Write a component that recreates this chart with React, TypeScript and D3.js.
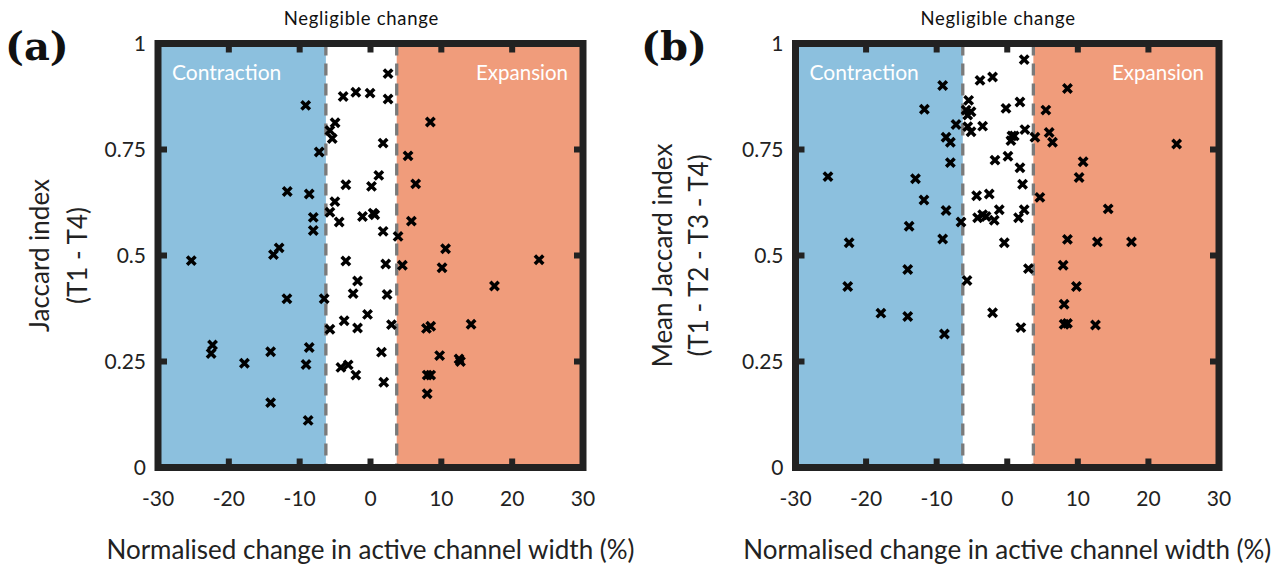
import React from "react";
import * as d3 from "d3";

// Panel (a): Jaccard index (T1 - T4)
const changeA = [-25.3, -22.3, -22.5, -17.8, -14.1, -14.1, -13.7, -12.9, -11.8, -11.75, -9.15, -9.1, -8.8, -8.65, -8.65, -8.08, -8.08, -7.24, -6.54, -5.73, -5.4, -5.0, -5.03, -5.73, -5.73, -4.42, -4.18, -3.86, -3.72, -3.48, -3.48, -3.15, -2.45, -2.07, -2.07, -1.83, -1.83, -1.13, -0.42, -0.06, 0.14, 0.37, 0.6, 1.17, 1.55, 1.78, 1.78, 1.87, 2.15, 2.34, 2.48, 2.48, 2.96, 3.89, 4.5, 5.3, 5.77, 6.38, 7.9, 8.5, 8.0, 8.5, 8.0, 8.45, 9.76, 10.1, 10.6, 12.5, 12.7, 14.2, 17.5, 23.8];
const jaccardA = [0.488, 0.289, 0.269, 0.246, 0.273, 0.153, 0.502, 0.518, 0.398, 0.651, 0.854, 0.243, 0.111, 0.283, 0.645, 0.59, 0.559, 0.744, 0.398, 0.795, 0.776, 0.813, 0.627, 0.602, 0.326, 0.579, 0.236, 0.875, 0.346, 0.667, 0.487, 0.242, 0.41, 0.885, 0.218, 0.44, 0.329, 0.592, 0.361, 0.883, 0.663, 0.6, 0.596, 0.689, 0.272, 0.765, 0.557, 0.201, 0.48, 0.408, 0.929, 0.869, 0.337, 0.545, 0.477, 0.735, 0.581, 0.669, 0.328, 0.333, 0.218, 0.218, 0.174, 0.815, 0.264, 0.471, 0.516, 0.256, 0.25, 0.338, 0.428, 0.49];

// Panel (b): Mean Jaccard index (T1 - T2 - T3 - T4)
const changeB = [-9.15, -3.86, -2.08, -5.47, -5.84, -5.13, -5.6, -0.18, -11.74, -7.26, -5.6, -5.13, -3.49, -8.67, -8.06, 0.66, 0.99, 0.52, -8.06, -1.74, 0.1, -25.4, -13.0, -11.8, -4.34, -2.55, -8.67, -1.13, -4.2, -3.49, -3.0, -1.84, -6.55, -13.9, -9.15, -22.4, -0.42, 2.4, 8.53, 1.8, 5.47, 2.5, 3.92, 5.94, 6.41, 24.0, 1.8, 2.17, 10.75, 10.18, 4.62, 2.4, 1.6, 14.3, 8.53, 12.77, 17.6, 3.0, 7.92, 9.8, 8.06, 8.06, 8.53, 12.5, 1.93, -14.1, -5.7, -22.6, -17.9, -14.1, -2.08, -8.9];
const jaccardB = [0.901, 0.913, 0.921, 0.866, 0.843, 0.839, 0.831, 0.847, 0.845, 0.809, 0.804, 0.792, 0.805, 0.779, 0.767, 0.782, 0.782, 0.771, 0.719, 0.725, 0.734, 0.686, 0.681, 0.631, 0.641, 0.645, 0.606, 0.608, 0.589, 0.596, 0.592, 0.583, 0.579, 0.569, 0.539, 0.53, 0.53, 0.962, 0.894, 0.862, 0.843, 0.797, 0.779, 0.79, 0.767, 0.763, 0.707, 0.668, 0.721, 0.684, 0.637, 0.608, 0.589, 0.61, 0.538, 0.532, 0.532, 0.469, 0.477, 0.427, 0.385, 0.338, 0.34, 0.336, 0.33, 0.467, 0.441, 0.427, 0.364, 0.356, 0.365, 0.315];

const xTicks = [-30, -20, -10, 0, 10, 20, 30];
const yTicks = [0, 0.25, 0.5, 0.75, 1];
const yTickLabels = ["0", "0.25", "0.5", "0.75", "1"];
const bounds = [-6.3, 3.7]; // negligible change band

const FONT = "Lato, 'Open Sans', sans-serif";

type PanelProps = {
  x0: number;
  x1: number;
  tag: string;
  tagX: number;
  yLabel: string[];
  yLabelX: number[];
  xs: number[];
  ys: number[];
};

function Panel({ x0, x1, tag, tagX, yLabel, yLabelX, xs, ys }: PanelProps) {
  const top = 43.5;
  const bottom = 467.5;
  const x = d3.scaleLinear().domain([-30, 30]).range([x0, x1]);
  const y = d3.scaleLinear().domain([0, 1]).range([bottom, top]);
  const xl = x(bounds[0]);
  const xr = x(bounds[1]);
  const midNeg = (xl + xr) / 2;
  const cx = (x0 + x1) / 2;
  const m = 4.2;
  return (
    <g>
      <rect x={x0} y={top} width={xl - x0} height={bottom - top} fill="#8cc0de" />
      <rect x={xr} y={top} width={x1 - xr} height={bottom - top} fill="#f09c7b" />
      <line x1={xl} x2={xl} y1={top} y2={bottom} stroke="#7a7a7a" strokeWidth={3.3} strokeDasharray="12 8" />
      <line x1={xr} x2={xr} y1={top} y2={bottom} stroke="#7a7a7a" strokeWidth={3.3} strokeDasharray="12 8" />
      <text x={x(-30) + 14} y={80} fill="#fff" fontSize={21} fontFamily={FONT}>Contraction</text>
      <text x={x(30) - 15} y={80} fill="#fff" fontSize={20.5} fontFamily={FONT} textAnchor="end">Expansion</text>
      <text x={midNeg} y={25} fontSize={18.5} letterSpacing={0.7} fontFamily={FONT} textAnchor="middle" fill="#111">Negligible change</text>
      {xs.map((v, i) => {
        const px = x(v);
        const py = y(ys[i]);
        return (
          <path key={i} d={`M${px - m},${py - m}L${px + m},${py + m}M${px + m},${py - m}L${px - m},${py + m}`}
            stroke="#000" strokeWidth={3.5} fill="none" />
        );
      })}
      {/* ticks */}
      {xTicks.map((t) => (
        <g key={"xt" + t}>
          <rect x={x(t) - 3} y={bottom - 9} width={6} height={6} fill="#222" />
          <rect x={x(t) - 3} y={top + 3} width={6} height={6} fill="#222" />
          <text x={x(t)} y={506} fontSize={21} fontFamily={FONT} textAnchor="middle" fill="#222">{t}</text>
        </g>
      ))}
      {yTicks.map((t, i) => (
        <g key={"yt" + t}>
          <rect x={x0 + 3} y={y(t) - 3} width={6} height={6} fill="#222" />
          <rect x={x1 - 9} y={y(t) - 3} width={6} height={6} fill="#222" />
          <text x={x0 - 12} y={y(t) + 7} fontSize={21} fontFamily={FONT} textAnchor="end" fill="#222">{yTickLabels[i]}</text>
        </g>
      ))}
      <rect x={x0} y={top} width={x1 - x0} height={bottom - top} fill="none" stroke="#222" strokeWidth={7} />
      <text x={cx} y={559} fontSize={26} fontFamily={FONT} textAnchor="middle" fill="#222">
        Normalised change in active channel width (%)
      </text>
      {yLabel.map((s, i) => (
        <text key={s} transform={`translate(${yLabelX[i]},${(top + bottom) / 2}) rotate(-90)`}
          fontSize={26} fontFamily={FONT} textAnchor="middle" fill="#222">{s}</text>
      ))}
      <text x={tagX} y={60} fontSize={40} fontWeight="bold" fontFamily="'DejaVu Serif', serif" fill="#111">{tag}</text>
    </g>
  );
}

export default function App() {
  return (
    <svg width={1288} height={566} style={{ display: "block", position: "absolute", left: 0, top: 0 }}>
      <rect width={1288} height={566} fill="#fff" />
      <Panel x0={158} x1={583} tag="(a)" tagX={5} yLabel={["Jaccard index", "(T1 - T4)"]} yLabelX={[49, 87]}
        xs={changeA} ys={jaccardA} />
      <Panel x0={795.5} x1={1219} tag="(b)" tagX={641} yLabel={["Mean Jaccard index", "(T1 - T2 - T3 - T4)"]} yLabelX={[672, 708]}
        xs={changeB} ys={jaccardB} />
    </svg>
  );
}
